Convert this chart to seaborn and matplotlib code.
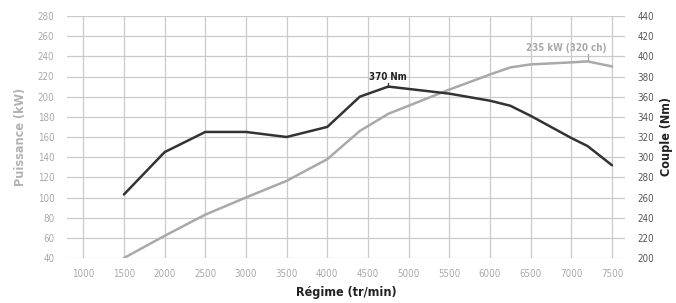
import matplotlib
matplotlib.use("Agg")
import matplotlib.pyplot as plt
from matplotlib import font_manager
import seaborn as sns
import pandas as pd

rpm_power = [1500, 2000, 2500, 3000, 3500, 4000, 4400, 4750, 5500, 6000, 6250, 6500, 7000, 7200, 7500]
power_kw = [40, 62, 83, 100, 116.5, 138, 166, 183, 207, 222, 229, 232, 234, 235, 230]

rpm_torque = [1500, 2000, 2500, 3000, 3500, 4000, 4400, 4750, 5500, 6000, 6250, 6500, 7000, 7200, 7500]
torque_nm = [263, 305, 325, 325, 320, 330, 360, 370, 363, 356, 351, 341, 319, 311, 292]

x_ticks = [1000, 1500, 2000, 2500, 3000, 3500, 4000, 4500, 5000, 5500, 6000, 6500, 7000, 7500]
left_ticks = list(range(40, 281, 20))
right_ticks = list(range(200, 441, 20))

peak_power_label = "235 kW (320 ch)"
peak_torque_label = "370 Nm"

sns.set_theme(style="white")

# pick a condensed font if one is installed
fonts = font_manager.fontManager.ttflist
names = {f.name for f in fonts}
stretch = "normal"
if "Liberation Sans Narrow" in names:
    fam = ["Liberation Sans Narrow", "DejaVu Sans"]
elif any(f.name == "DejaVu Sans" and str(f.stretch) in ("condensed", "semi-condensed", "600", "500", "700") for f in fonts):
    fam = ["DejaVu Sans"]
    stretch = "condensed"
else:
    fam = ["Roboto", "DejaVu Sans"]
plt.rcParams['font.family'] = fam
plt.rcParams['font.stretch'] = stretch

df_p = pd.DataFrame({"rpm": rpm_power, "kw": power_kw})
df_t = pd.DataFrame({"rpm": rpm_torque, "nm": torque_nm})

fig = plt.figure(figsize=(6.76, 3.03), dpi=100)
ax = fig.add_axes([67/676, 1-258/303, (625-67)/676, (258-16)/303])
ax2 = ax.twinx()

grid_c = "#cacaca"
tick_c = "#a8a8a8"

sns.lineplot(data=df_p, x="rpm", y="kw", ax=ax, color="#a9a9a9", lw=1.8, zorder=3)
sns.lineplot(data=df_t, x="rpm", y="nm", ax=ax2, color="#333333", lw=1.8, zorder=3)

ax.set_xlim(800, 7660)
ax.set_ylim(40, 280)
ax2.set_ylim(200, 440)
ax.set_xticks(x_ticks)
ax.set_yticks(left_ticks)
ax2.set_yticks(right_ticks)
ax.grid(True, color=grid_c, lw=0.9)
ax.set_axisbelow(True)
for a in (ax, ax2):
    for s in a.spines.values():
        s.set_visible(False)
    a.tick_params(length=0, labelsize=7, labelcolor=tick_c)
ax.tick_params(axis='x', pad=8)
ax.tick_params(axis='y', pad=9)
ax2.tick_params(axis='y', pad=9, labelcolor="#555555")

ax.set_xlabel("Régime (tr/min)", fontsize=9, fontweight="bold", color="#222222", labelpad=5)
ax.set_ylabel("Puissance (kW)", fontsize=9, fontweight="bold", color="#b3b3b3", labelpad=8)
ax2.set_ylabel("Couple (Nm)", fontsize=9, fontweight="bold", color="#222222", labelpad=4)

# annotations
i_t = torque_nm.index(max(torque_nm))
ax2.plot([rpm_torque[i_t], rpm_torque[i_t]], [torque_nm[i_t], torque_nm[i_t] + 4], color="#333333", lw=1)
ax2.text(rpm_torque[i_t], torque_nm[i_t] + 5, peak_torque_label, ha="center", va="bottom",
         fontsize=7, fontweight="bold", color="#222222")
i_p = power_kw.index(max(power_kw))
ax.plot([rpm_power[i_p], rpm_power[i_p]], [power_kw[i_p], power_kw[i_p] + 7], color="#a9a9a9", lw=1)
ax.text(7430, power_kw[i_p] + 8, peak_power_label, ha="right", va="bottom",
        fontsize=7, fontweight="bold", color="#a9a9a9")

fig.savefig("out.png", dpi=100)
